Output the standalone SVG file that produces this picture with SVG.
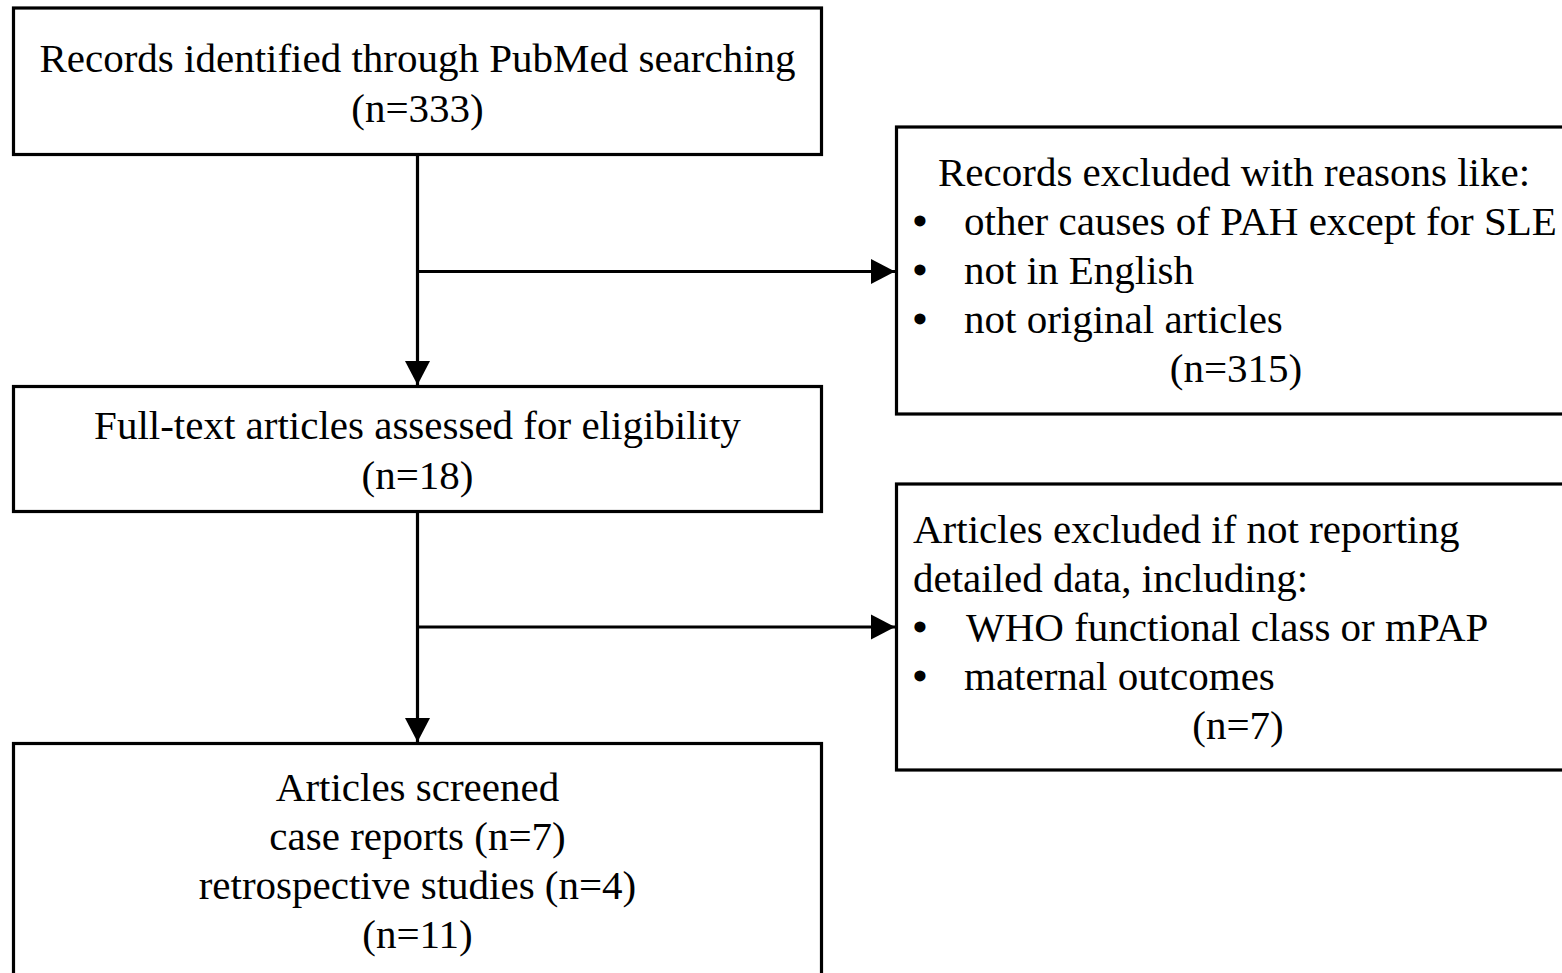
<svg xmlns="http://www.w3.org/2000/svg" width="1562" height="973" viewBox="0 0 1562 973">
<style>
.box{fill:#fff;stroke:#000;stroke-width:3.2}
.t{font-family:"Liberation Serif","Times New Roman",serif;font-size:41px;fill:#000}
.c{text-anchor:middle}
.b{font-family:"Liberation Serif","Times New Roman",serif;font-size:41px;font-weight:bold;fill:#000;text-anchor:middle}
.conn{fill:none;stroke:#000;stroke-width:3.2}
</style>
<defs>
<marker id="ah" markerUnits="userSpaceOnUse" markerWidth="26" markerHeight="26" viewBox="0 0 26 26" refX="24" refY="13" orient="auto">
<path d="M0,0.5 L24,13 L0,25.5 Z" fill="#000"/>
</marker>
</defs>
<rect width="1562" height="973" fill="#fff"/>
<g id="node-pubmed">
<rect class="box" x="13.5" y="8" width="808" height="146.5"/>
<text class="t c" x="417.5" y="72">Records identified through PubMed searching</text>
<text class="t c" x="417.5" y="122">(n=333)</text>
</g>
<g id="node-excluded1">
<rect class="box" x="896.5" y="127" width="700" height="287"/>
<text class="t" x="938" y="186">Records excluded with reasons like:</text>
<text class="b" x="920" y="235">•</text>
<text class="t" x="964" y="235">other causes of PAH except for SLE</text>
<text class="b" x="920" y="284">•</text>
<text class="t" x="964" y="284">not in English</text>
<text class="b" x="920" y="333">•</text>
<text class="t" x="964" y="333">not original articles</text>
<text class="t c" x="1236" y="382">(n=315)</text>
</g>
<g id="node-fulltext">
<rect class="box" x="13.5" y="386.5" width="808" height="125"/>
<text class="t c" x="417.5" y="439">Full-text articles assessed for eligibility</text>
<text class="t c" x="417.5" y="489">(n=18)</text>
</g>
<g id="node-excluded2">
<rect class="box" x="896.5" y="484" width="700" height="286"/>
<text class="t" x="913" y="543">Articles excluded if not reporting</text>
<text class="t" x="913" y="592">detailed data, including:</text>
<text class="b" x="920" y="641">•</text>
<text class="t" x="966" y="641">WHO functional class or mPAP</text>
<text class="b" x="920" y="690">•</text>
<text class="t" x="964" y="690">maternal outcomes</text>
<text class="t c" x="1238" y="739">(n=7)</text>
</g>
<g id="node-screened">
<rect class="box" x="13.5" y="743.5" width="808" height="260"/>
<text class="t c" x="417.5" y="801">Articles screened</text>
<text class="t c" x="417.5" y="850">case reports (n=7)</text>
<text class="t c" x="417.5" y="899">retrospective studies (n=4)</text>
<text class="t c" x="417.5" y="948">(n=11)</text>
</g>
<g id="connectors">
<path class="conn" d="M417.5,154.5 V385" marker-end="url(#ah)"/>
<path class="conn" d="M417.5,271.5 H895" marker-end="url(#ah)"/>
<path class="conn" d="M417.5,511.5 V742" marker-end="url(#ah)"/>
<path class="conn" d="M417.5,627 H895" marker-end="url(#ah)"/>
</g>
</svg>
